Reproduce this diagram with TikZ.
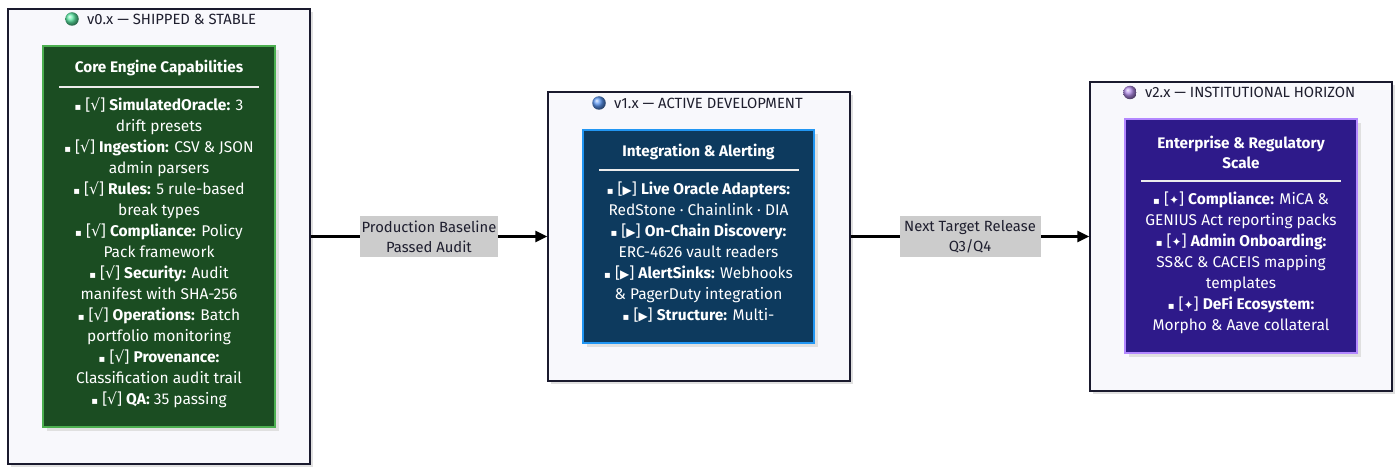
\documentclass[tikz,border=0pt]{standalone}
\usepackage{fontspec}
\setmainfont{Fira Sans}
\newfontfamily\symfont{DejaVu Sans}
\usetikzlibrary{arrows.meta,shadows}
\definecolor{outerfill}{HTML}{F8F8FC}
\definecolor{outerdraw}{HTML}{1A1A2E}
\definecolor{gfill}{HTML}{1B4D22}
\definecolor{gdraw}{HTML}{4CAF50}
\definecolor{bfill}{HTML}{0D3A5E}
\definecolor{bdraw}{HTML}{2196F3}
\definecolor{pfill}{HTML}{2E1A8A}
\definecolor{pdraw}{HTML}{B388FF}
\definecolor{labfill}{HTML}{CCCCCC}
\definecolor{txtdark}{HTML}{1E1E2E}
\definecolor{dotg}{HTML}{5CE8A4}
\definecolor{dotb}{HTML}{5A95F0}
\definecolor{dotp}{HTML}{B08AE6}
\newcommand{\bul}{{\symfont\fontsize{10}{10}\selectfont ▪}}
\newcommand{\ck}{[{\symfont √}]}
\newcommand{\pl}{[{\symfont\fontsize{12}{12}\selectfont ▶}]}
\newcommand{\st}{[{\symfont\fontsize{12}{12}\selectfont ✦}]}
\begin{document}
\begin{tikzpicture}[x=1pt,y=-1pt,
  phase/.style={draw=outerdraw,line width=1.4pt,fill=outerfill,minimum width=302pt,inner sep=0pt,
    drop shadow={shadow xshift=3pt,shadow yshift=-3pt,fill=black!12,opacity=1}},
  card/.style={line width=1.6pt,inner sep=0pt,
    drop shadow={shadow xshift=4pt,shadow yshift=-4pt,fill=black!12,opacity=1}},
  phasetitle/.style={font=\fontsize{14.8}{16}\selectfont,text=txtdark,inner sep=0pt},
  cardtitle/.style={font=\bfseries\fontsize{15.3}{20}\selectfont,text=white,align=center,inner sep=0pt},
  cardtext/.style={font=\fontsize{15.5}{21}\selectfont,text=white,align=center,inner sep=0pt,anchor=north},
  rule/.style={draw=white!85!gray,line width=1.2pt},
  flow/.style={line width=2.6pt,-{Stealth[length=12pt,width=11pt,inset=0pt]}},
  flowlabel/.style={fill=labfill,text=txtdark,font=\fontsize{14.8}{20}\selectfont,align=center,inner sep=0pt,minimum height=41pt},
  dot/.style={circle,minimum size=13.5pt,inner sep=0pt}
]
\useasboundingbox (0,0) rectangle (1400,473);

% phase boxes
\node[phase,minimum height=455pt] (p1) at (159,236.5) {};
\node[phase,minimum height=289pt] (p2) at (699,236.5) {};
\node[phase,minimum height=309pt] (p3) at (1241,236.5) {};

% phase titles
\node[dot,shading=ball,ball color=dotg] (d1) at (72,19) {};
\node[phasetitle,anchor=west] (t1) at (87,19) {v0.x — SHIPPED \& STABLE};
\node[dot,shading=ball,ball color=dotb] (d2) at (599,103) {};
\node[phasetitle,anchor=west] (t2) at (614,103) {v1.x — ACTIVE DEVELOPMENT};
\node[dot,shading=ball,ball color=dotp] (d3) at (1130,92.5) {};
\node[phasetitle,anchor=west] (t3) at (1145,92.5) {v2.x — INSTITUTIONAL HORIZON};

% cards
\node[card,draw=gdraw,fill=gfill,minimum width=232pt,minimum height=381pt] (c1) at (159,236.5) {};
\node[card,draw=bdraw,fill=bfill,minimum width=231pt,minimum height=213pt] (c2) at (698.5,236.5) {};
\node[card,draw=pdraw,fill=pfill,minimum width=232pt,minimum height=234pt] (c3) at (1241,236) {};

% card 1
\node[cardtitle] (h1) at (159,68) {Core Engine Capabilities};
\draw[rule] (59,87) -- (259,87);
\node[cardtext] (l1) at (159,97.3) {%
\bul\ \ck\ \textbf{SimulatedOracle:} 3\\
drift presets\\
\bul\ \ck\ \textbf{Ingestion:} CSV \& JSON\\
admin parsers\\
\bul\ \ck\ \textbf{Rules:} 5 rule-based\\
break types\\
\bul\ \ck\ \textbf{Compliance:} Policy\\
Pack framework\\
\bul\ \ck\ \textbf{Security:} Audit\\
manifest with SHA-256\\
\bul\ \ck\ \textbf{Operations:} Batch\\
portfolio monitoring\\
\bul\ \ck\ \textbf{Provenance:}\\
Classification audit trail\\
\bul\ \ck\ \textbf{QA:} 35 passing};

% card 2
\node[cardtitle] (h2) at (698.5,152) {Integration \& Alerting};
\draw[rule] (599,170) -- (799,170);
\node[cardtext] (l2) at (698.5,181.3) {%
\bul\ \pl\ \textbf{Live Oracle Adapters:}\\
RedStone · Chainlink · DIA\\
\bul\ \pl\ \textbf{On-Chain Discovery:}\\
ERC-4626 vault readers\\
\bul\ \pl\ \textbf{AlertSinks:} Webhooks\\
\& PagerDuty integration\\
\bul\ \pl\ \textbf{Structure:} Multi-};

% card 3
\node[cardtitle] (h3) at (1241,152) {Enterprise \& Regulatory\\Scale};
\draw[rule] (1141,181) -- (1341,181);
\node[cardtext] (l3) at (1241,191.5) {%
\bul\ \st\ \textbf{Compliance:} MiCA \&\\
GENIUS Act reporting packs\\
\bul\ \st\ \textbf{Admin Onboarding:}\\
SS\&C \& CACEIS mapping\\
templates\\
\bul\ \st\ \textbf{DeFi Ecosystem:}\\
Morpho \& Aave collateral};

% connectors
\draw[flow] (p1.east) -- node[flowlabel,minimum width=138pt] (e1) {Production Baseline\\Passed Audit} (p2.west);
\draw[flow] (p2.east) -- node[flowlabel,minimum width=141pt] (e2) {Next Target Release\\Q3/Q4} (p3.west);
\end{tikzpicture}
\end{document}
